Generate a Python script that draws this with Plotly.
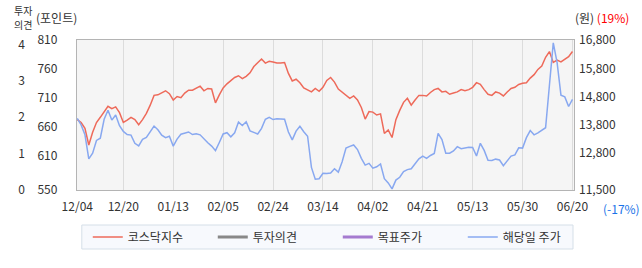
import plotly.graph_objects as go

# ---- data ----
tick_idx = [0, 12, 25, 38, 51, 64, 77, 90, 103, 116, 129]
tick_labels = ["12/04", "12/20", "01/13", "02/05", "02/24", "03/14",
               "04/02", "04/21", "05/13", "05/30", "06/20"]

kosdaq = [672, 667, 657, 628, 650, 667, 676, 686, 695, 691,
          694, 684, 667, 671, 676, 672, 663, 672, 683, 697,
          714, 715, 718, 722, 717, 706, 712, 710, 718, 723,
          723, 726, 730, 722, 726, 725, 701, 715, 727, 734,
          739, 745, 748, 743, 747, 753, 764, 771, 777, 770,
          773, 772, 770, 770, 771, 752, 739, 742, 736, 727,
          723, 720, 726, 721, 728, 740, 745, 737, 725, 720,
          715, 709, 713, 706, 693, 673, 686, 685, 680, 682,
          648, 654, 641, 672, 688, 702, 709, 697, 706, 714,
          714, 713, 719, 724, 726, 720, 721, 716, 718, 720,
          724, 722, 724, 728, 736, 733, 724, 716, 714, 720,
          718, 713, 720, 726, 728, 733, 735, 736, 744, 750,
          759, 765, 780, 790, 771, 775, 772, 776, 781, 790]

stock = [14030, 13800, 13450, 12600, 12800, 13250, 13330, 14000, 14320, 13970,
         14150, 13770, 13570, 13460, 13440, 13150, 13060, 13290, 13360, 13540,
         13760, 13630, 13440, 13350, 13400, 13050, 13300, 13470, 13500, 13550,
         13460, 13490, 13450, 13290, 13170, 13050, 12890, 13180, 13480, 13525,
         13380, 13520, 13900, 13780, 13910, 13590, 13530, 13480, 13680, 14000,
         14070, 13990, 14020, 14000, 14000, 13550, 13270, 13580, 13750, 13560,
         13400, 12300, 11880, 11900, 12090, 12080, 12100, 12250, 12130, 12500,
         12980, 13040, 13090, 12930, 12620, 12380, 12440, 12270, 12320, 12420,
         11900, 11750, 11540, 11850, 11950, 12150, 12220, 12250, 12430, 12600,
         12700, 12620, 12720, 12790, 13500, 13280, 12800, 12800, 12880, 13030,
         12960, 12990, 13010, 13000, 12700, 13150, 12900, 12550, 12540, 12590,
         12560, 12360, 12550, 12700, 12740, 12990, 12980, 13350, 13600, 13450,
         13520, 13620, 13700, 15200, 16700, 16000, 14850, 14790, 14450, 14700]

x_idx = list(range(len(kosdaq)))

left_ticks = [550, 610, 660, 710, 760, 810]
right_ticks = [11500, 12800, 13800, 14800, 15800, 16800]
opinion_ticks = [0, 1, 2, 3, 4]

FONT = "Noto Sans CJK KR"
TXT = "#333333"

fig = go.Figure()
fig.add_trace(go.Scatter(x=x_idx, y=stock, mode="lines", name="해당일 주가",
                         line=dict(color="#88a8f0", width=1.5), yaxis="y2",
                         legendrank=4))
fig.add_trace(go.Scatter(x=x_idx, y=kosdaq, mode="lines", name="코스닥지수",
                         line=dict(color="#ee6a5a", width=1.5), yaxis="y",
                         legendrank=1))
fig.add_trace(go.Scatter(x=[None], y=[None], mode="lines", name="투자의견",
                         line=dict(color="#888888", width=3), yaxis="y3",
                         legendrank=2))
fig.add_trace(go.Scatter(x=[None], y=[None], mode="lines", name="목표주가",
                         line=dict(color="#a57bd0", width=3), yaxis="y2",
                         legendrank=3))

L, R, T, B = 25, 68, 40, 78
W, H = 642, 268
pw = W - L - R
ph = H - T - B

def px_x(p):
    return (p - L) / pw

def px_y(p):
    return (H - B - p) / ph

fig.update_layout(
    width=W, height=H,
    margin=dict(l=L, r=R, t=T, b=B, pad=0),
    paper_bgcolor="white",
    plot_bgcolor="#f5f5f5",
    font=dict(family=FONT, size=12, color=TXT),
    xaxis=dict(domain=[px_x(75), 1], range=[-0.12, 129.4],
               tickmode="array", tickvals=tick_idx, ticktext=tick_labels,
               showgrid=True, gridcolor="#dcdcdc", gridwidth=1,
               showline=True, linecolor="#b4b4b4", linewidth=1, mirror=True,
               zeroline=False, ticks="", ticklabelstandoff=6,
               tickfont=dict(family=FONT, size=12, color=TXT)),
    yaxis=dict(range=[550, 810], tickmode="array", tickvals=left_ticks,
               showgrid=False, zeroline=False, showline=True,
               linecolor="#b4b4b4", linewidth=1, mirror=True,
               ticks="", ticklabelstandoff=16,
               tickfont=dict(family=FONT, size=12, color=TXT)),
    yaxis2=dict(range=[11500, 16800], overlaying="y", side="right",
                tickmode="array", tickvals=right_ticks, tickformat=",",
                showgrid=False, zeroline=False, showline=False,
                ticks="", ticklabelstandoff=4,
                tickfont=dict(family=FONT, size=12, color=TXT)),
    yaxis3=dict(range=[0, 4.12], overlaying="y", side="left", anchor="free",
                position=0, tickmode="array", tickvals=opinion_ticks,
                showgrid=False, zeroline=False,
                showline=False, ticks="", ticklabelstandoff=2,
                tickfont=dict(family=FONT, size=12, color=TXT)),
    showlegend=True,
    legend=dict(orientation="h", x=px_x(86), y=px_y(237),
                xanchor="left", yanchor="middle",
                bgcolor="rgba(0,0,0,0)", borderwidth=0,
                entrywidth=80, entrywidthmode="pixels",
                font=dict(family=FONT, size=12, color=TXT),
                traceorder="normal"),
    shapes=[dict(type="rect", xref="paper", yref="paper",
                 x0=px_x(80), x1=px_x(573), y0=px_y(249), y1=px_y(225),
                 fillcolor="#f7f9fd", line=dict(color="#d5dfe8", width=1),
                 layer="below")],
    annotations=[
        dict(text="투자", xref="paper", yref="paper",
             x=px_x(11), y=px_y(11), xanchor="left", yanchor="middle",
             showarrow=False, borderpad=0,
             font=dict(family=FONT, size=10, color=TXT)),
        dict(text="의견", xref="paper", yref="paper",
             x=px_x(11), y=px_y(25), xanchor="left", yanchor="middle",
             showarrow=False, borderpad=0,
             font=dict(family=FONT, size=10, color=TXT)),
        dict(text="(포인트)", xref="paper", yref="paper",
             x=px_x(33), y=px_y(18), xanchor="left", yanchor="middle",
             showarrow=False, borderpad=0,
             font=dict(family=FONT, size=12, color=TXT)),
        dict(text="(원) <span style='color:#ff0000'>(19%)</span>",
             xref="paper", yref="paper",
             x=px_x(574), y=px_y(18), xanchor="left", yanchor="middle",
             showarrow=False, borderpad=0,
             font=dict(family=FONT, size=12, color=TXT)),
        dict(text="(-17%)", xref="paper", yref="paper",
             x=px_x(602), y=px_y(208), xanchor="left", yanchor="middle",
             showarrow=False, borderpad=0,
             font=dict(family=FONT, size=12, color="#1a73e8")),
    ],
)

fig.write_html("out.html")
